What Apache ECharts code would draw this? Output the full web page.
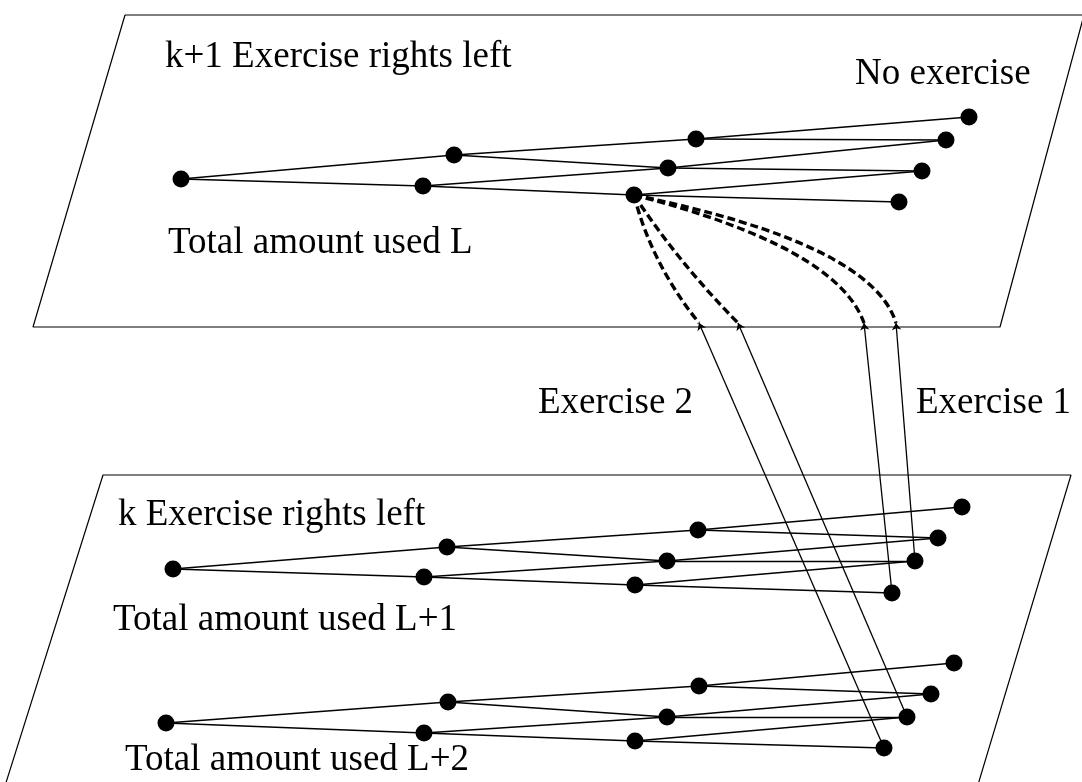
<!DOCTYPE html>
<html><head><meta charset="utf-8">
<script src="https://cdn.jsdelivr.net/npm/echarts@6/dist/echarts.min.js"></script>
<style>html,body{margin:0;padding:0;background:#fff}#c{width:1082px;height:782px}</style>
</head><body><div id="c"></div>
<script>
// Node positions, in pixel-like data units (x right, y down)
const treeL  = [[181,179],[454,155],[423,186],[696,139],[668,168],[634,195],[969,117],[946,140],[922,171],[899,202]];
const treeL1 = [[173,569],[447,547],[424,577],[698,530],[667,561],[635,585],[962,507],[938,538],[915,561],[892,593]];
const treeL2 = [[166,723],[448,702],[424,733],[699,686],[667,717],[635,741],[954,663],[931,694],[907,717],[884,748]];
const treeEdges = [[0,1],[0,2],[1,3],[1,4],[2,4],[2,5],[3,6],[3,7],[4,7],[4,8],[5,8],[5,9]];

const planeTop    = [[125,15],[1084,15],[1000,327],[33,327],[125,15]];
const planeBottom = [[-2,808],[103,475],[1071,475],[971,808]];

// Dashed exercise paths: end point on the plane edge and curve control point
const dashEnds     = [[699,323],[738,323],[864,323],[896,323]];
const dashControls = [[651,263],[678,262],[837,247],[872,244]];

// Solid links into the lower planes
const exercise2Links = [[dashEnds[0], treeL2[9]], [dashEnds[1], treeL2[8]]];
const exercise1Links = [[dashEnds[2], treeL1[9]], [dashEnds[3], treeL1[8]]];

// Labels: text, left x, vertical centre y
const labels = [
  ['k+1 Exercise rights left', 165, 57],
  ['No exercise', 855, 74],
  ['Total amount used L', 168, 243],
  ['Exercise 2', 538, 403],
  ['Exercise 1', 916, 403],
  ['k Exercise rights left', 118, 515],
  ['Total amount used L+1', 113, 620],
  ['Total amount used L+2', 125, 760]
];

const chart = echarts.init(document.getElementById('c'), null, {renderer:'canvas'});
const black = '#000';
function edgeData(tree){ return treeEdges.map(e => ({coords:[tree[e[0]], tree[e[1]]]})); }
function planeSeries(pts){
  return {type:'line', data:pts, symbol:'none', clip:false, silent:true,
    lineStyle:{color:black, width:1.2, opacity:1}, z:1};
}
const dashData = dashEnds.map((e, i) => [treeL[5][0], treeL[5][1], dashControls[i][0], dashControls[i][1], e[0], e[1]]);
const option = {
  animation:false,
  backgroundColor:'#fff',
  grid:{left:0,right:0,top:0,bottom:0},
  xAxis:{type:'value', min:0, max:1082, show:false},
  yAxis:{type:'value', min:0, max:782, inverse:true, show:false},
  series:[
    planeSeries(planeTop),
    planeSeries(planeBottom),
    {type:'lines', coordinateSystem:'cartesian2d', silent:true, z:2,
      data:[].concat(edgeData(treeL), edgeData(treeL1), edgeData(treeL2)),
      lineStyle:{color:black, width:1.3, opacity:1}, symbol:'none'},
    {type:'custom', silent:true, z:3, clip:false,
      data:dashData,
      encode:{x:[0,2,4], y:[1,3,5]},
      renderItem:function(params, api){
        const p0 = api.coord([api.value(0), api.value(1)]);
        const c  = api.coord([api.value(2), api.value(3)]);
        const p1 = api.coord([api.value(4), api.value(5)]);
        return {type:'bezierCurve',
          shape:{x1:p0[0], y1:p0[1], cpx1:c[0], cpy1:c[1], x2:p1[0], y2:p1[1]},
          style:{stroke:black, fill:null, lineWidth:3.4, lineDash:[8,4], lineCap:'butt'}};
      }},
    {type:'lines', coordinateSystem:'cartesian2d', silent:true, z:2,
      data:[].concat(exercise2Links, exercise1Links).map(c => ({coords:c})),
      lineStyle:{color:black, width:1.3, opacity:1},
      symbol:['arrow','none'], symbolSize:7},
    {type:'scatter', silent:true, z:5, symbolSize:17,
      itemStyle:{color:black, opacity:1},
      data:[].concat(treeL, treeL1, treeL2)},
    {type:'scatter', silent:true, z:6, symbolSize:0,
      itemStyle:{opacity:1},
      data:labels.map(l => ({name:l[0], value:[l[1], l[2]]})),
      label:{show:true, position:'right', distance:0, formatter:'{b}',
        fontFamily:'Liberation Serif', fontSize:37, color:'#000', opacity:1}}
  ]
};
chart.setOption(option);
</script></body></html>
